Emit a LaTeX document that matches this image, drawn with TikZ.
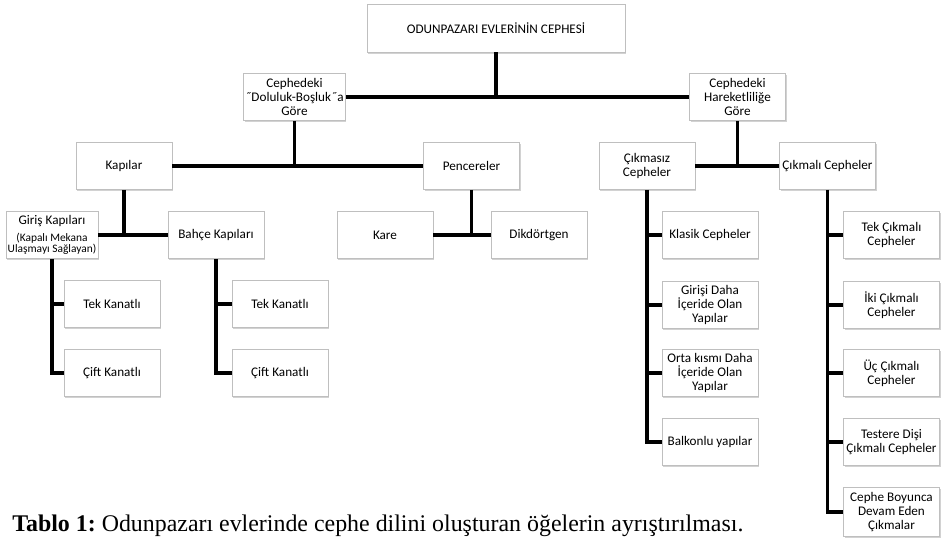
\documentclass[tikz,border=0pt]{standalone}
\usepackage{fontspec}
\setmainfont{Liberation Serif}
\newfontfamily\boxfont{Carlito}
\newcommand{\smalltxt}[1]{\makebox[0pt]{\fontsize{6.5}{6.6}\selectfont #1}}
\usetikzlibrary{shadows}

\begin{document}
\begin{tikzpicture}[x=0.02cm, y=-0.02cm,
	box/.style={draw=black!25, line width=0.4pt, fill=white, align=center,
		minimum width=1.92cm, minimum height=0.94cm, inner sep=1pt,
		font=\boxfont\fontsize{7.5}{8.1}\selectfont,
		drop shadow={shadow xshift=0.6pt, shadow yshift=-0.9pt, opacity=0.25, fill=black!70}},
	link/.style={line width=2.1pt}]
	\useasboundingbox (0,0) rectangle (941,539);
	% top levels
	\node[box, minimum width=5.16cm, minimum height=0.96cm] (top) at (496,28) {ODUNPAZARI EVLERİNİN CEPHESİ};
	\node[box] (dol) at (294.5,97) {Cephedeki\\˝Doluluk-Boşluk˝a\\Göre};
	\node[box] (har) at (737.5,97) {Cephedeki\\Hareketliliğe\\Göre};
	\node[box] (kap) at (124,166) {Kapılar};
	\node[box] (pen) at (471.5,166) {Pencereler};
	\node[box] (cikz) at (647,166) {Çıkmasız\\Cepheler};
	\node[box] (cikl) at (827.5,166) {Çıkmalı Cepheler};
	% doors and windows
	\node[box, minimum width=1.84cm] (gir) at (52,235)
		{\makebox[0pt]{Giriş Kapıları}\\[1.5pt]\smalltxt{(Kapalı Mekana}\\[-1.5pt]\smalltxt{Ulaşmayı Sağlayan)}};
	\node[box] (bah) at (216,235) {Bahçe Kapıları};
	\node[box] (kare) at (385,235) {Kare};
	\node[box] (dik) at (539,235) {Dikdörtgen};
	\node[box] (tekA) at (112,304) {Tek Kanatlı};
	\node[box] (ciftA) at (112,373) {Çift Kanatlı};
	\node[box] (tekB) at (280,304) {Tek Kanatlı};
	\node[box] (ciftB) at (280,373) {Çift Kanatlı};
	% facades
	\node[box] (kla) at (710,235) {Klasik Cepheler};
	\node[box] (girisi) at (710,305) {Girişi Daha\\İçeride Olan\\Yapılar};
	\node[box] (orta) at (710,373) {Orta kısmı Daha\\İçeride Olan\\Yapılar};
	\node[box] (balk) at (710,442) {Balkonlu yapılar};
	\node[box] (tek) at (891.5,235) {Tek Çıkmalı\\Cepheler};
	\node[box] (iki) at (891.5,305) {İki Çıkmalı\\Cepheler};
	\node[box] (uc) at (891.5,373) {Üç Çıkmalı\\Cepheler};
	\node[box] (test) at (891.5,442) {Testere Dişi\\Çıkmalı Cepheler};
	\node[box, minimum height=0.98cm] (boy) at (891.5,512) {Cephe Boyunca\\Devam Eden\\Çıkmalar};

	\draw[link] (top.south) -- (top.south |- dol.east);
	\draw[link] (dol.east) -- (har.west);
	\draw[link] (dol.south) -- (dol.south |- kap.east);
	\draw[link] (kap.east) -- (pen.west);
	\draw[link] (har.south) -- (har.south |- cikz.east);
	\draw[link] (cikz.east) -- (cikl.west);
	\draw[link] (kap.south) -- (kap.south |- bah.west);
	\draw[link] (gir.east) -- (bah.west);
	\draw[link] (pen.south) -- (pen.south |- dik.west);
	\draw[link] (kare.east) -- (dik.west);
	\draw[link] (gir.south) |- (ciftA.west);
	\draw[link] (gir.south |- tekA.west) -- (tekA.west);
	\draw[link] (bah.south) |- (ciftB.west);
	\draw[link] (bah.south |- tekB.west) -- (tekB.west);
	\draw[link] (cikz.south) |- (balk.west);
	\draw[link] (cikz.south |- kla.west) -- (kla.west);
	\draw[link] (cikz.south |- girisi.west) -- (girisi.west);
	\draw[link] (cikz.south |- orta.west) -- (orta.west);
	\draw[link] (cikl.south) |- (boy.west);
	\draw[link] (cikl.south |- tek.west) -- (tek.west);
	\draw[link] (cikl.south |- iki.west) -- (iki.west);
	\draw[link] (cikl.south |- uc.west) -- (uc.west);
	\draw[link] (cikl.south |- test.west) -- (test.west);

	\node[anchor=base west, font=\fontsize{13.6}{15}\selectfont\frenchspacing, inner sep=0pt] (cap) at (12,531)
		{\textbf{Tablo 1:} Odunpazarı evlerinde cephe dilini oluşturan öğelerin ayrıştırılması.};
\end{tikzpicture}
\end{document}
